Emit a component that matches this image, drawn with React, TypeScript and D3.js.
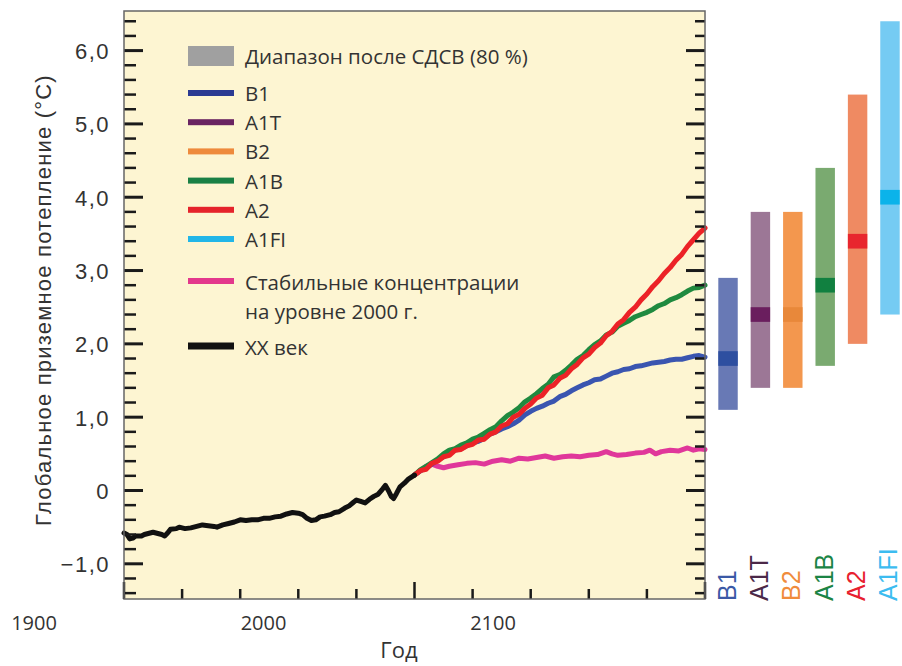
import React from "react";
import * as d3 from "d3";

// ---------- data ----------
const histYears = [1900, 1901, 1902, 1903, 1904, 1906, 1907, 1909, 1910, 1911, 1913, 1914, 1915, 1916, 1918, 1919, 1921, 1923, 1925, 1927, 1929, 1931, 1932, 1934, 1936, 1938, 1940, 1942, 1944, 1946, 1948, 1950, 1952, 1954, 1956, 1958, 1960, 1961.5, 1963, 1964.5, 1966, 1967.5, 1969, 1971, 1972.5, 1974, 1976, 1977.5, 1979, 1980, 1981.5, 1983, 1984.5, 1986, 1987.5, 1989, 1990, 1991, 1992, 1992.8, 1993.8, 1995, 1996.5, 1998, 2000];
const histTemps = [-0.58, -0.6, -0.66, -0.65, -0.62, -0.62, -0.6, -0.58, -0.57, -0.58, -0.6, -0.62, -0.58, -0.53, -0.52, -0.5, -0.52, -0.51, -0.49, -0.47, -0.48, -0.49, -0.5, -0.47, -0.45, -0.43, -0.4, -0.41, -0.4, -0.4, -0.38, -0.38, -0.36, -0.35, -0.32, -0.3, -0.31, -0.33, -0.38, -0.41, -0.4, -0.36, -0.35, -0.33, -0.3, -0.29, -0.24, -0.21, -0.16, -0.13, -0.15, -0.17, -0.12, -0.08, -0.05, 0.02, 0.07, 0.0, -0.08, -0.11, -0.04, 0.05, 0.1, 0.16, 0.21];

const scenYears = [2000, 2002, 2004, 2006, 2008, 2010, 2012, 2014, 2016, 2018, 2020, 2022, 2024, 2026, 2028, 2030, 2032, 2034, 2036, 2038, 2040, 2042, 2044, 2046, 2048, 2050, 2052, 2054, 2056, 2058, 2060, 2062, 2064, 2066, 2068, 2070, 2072, 2074, 2076, 2078, 2080, 2082, 2084, 2086, 2088, 2090, 2092, 2094, 2096, 2098, 2100];
const a2Temps = [0.21, 0.27, 0.29, 0.37, 0.4, 0.46, 0.48, 0.55, 0.56, 0.61, 0.63, 0.69, 0.7, 0.77, 0.8, 0.88, 0.91, 1.0, 1.04, 1.12, 1.18, 1.26, 1.3, 1.4, 1.44, 1.53, 1.57, 1.66, 1.72, 1.81, 1.86, 1.95, 2.01, 2.11, 2.17, 2.27, 2.33, 2.43, 2.5, 2.6, 2.68, 2.78, 2.86, 2.96, 3.04, 3.14, 3.22, 3.33, 3.42, 3.51, 3.58];
const a1bTemps = [0.21, 0.28, 0.33, 0.38, 0.43, 0.5, 0.55, 0.57, 0.62, 0.65, 0.7, 0.73, 0.78, 0.83, 0.87, 0.95, 1.02, 1.07, 1.13, 1.21, 1.26, 1.32, 1.39, 1.45, 1.55, 1.58, 1.64, 1.71, 1.79, 1.84, 1.92, 1.99, 2.04, 2.12, 2.16, 2.24, 2.28, 2.32, 2.37, 2.4, 2.43, 2.47, 2.52, 2.55, 2.6, 2.63, 2.67, 2.72, 2.76, 2.77, 2.8];
const b1Temps = [0.21, 0.27, 0.31, 0.36, 0.42, 0.46, 0.5, 0.55, 0.57, 0.61, 0.65, 0.67, 0.71, 0.77, 0.8, 0.84, 0.87, 0.91, 0.96, 1.03, 1.08, 1.12, 1.15, 1.19, 1.22, 1.28, 1.31, 1.36, 1.4, 1.44, 1.47, 1.51, 1.52, 1.56, 1.6, 1.62, 1.65, 1.66, 1.69, 1.7, 1.72, 1.74, 1.75, 1.76, 1.78, 1.79, 1.79, 1.81, 1.83, 1.84, 1.82];

const commitYears = [2000, 2002, 2004, 2006, 2008, 2010, 2012, 2015, 2018, 2021, 2024, 2027, 2030, 2033, 2036, 2039, 2042, 2045, 2048, 2051, 2054, 2057, 2060, 2063, 2066, 2068, 2070, 2073, 2076, 2079, 2081, 2083, 2085, 2088, 2091, 2094, 2096, 2098, 2100];
const commitTemps = [0.21, 0.27, 0.33, 0.36, 0.33, 0.31, 0.33, 0.35, 0.37, 0.38, 0.36, 0.4, 0.42, 0.4, 0.44, 0.43, 0.45, 0.47, 0.44, 0.46, 0.47, 0.46, 0.48, 0.49, 0.53, 0.5, 0.48, 0.49, 0.51, 0.52, 0.55, 0.5, 0.53, 0.55, 0.54, 0.58, 0.55, 0.57, 0.56];

const barScenarios = ["B1", "A1T", "B2", "A1B", "A2", "A1FI"];
const barBest = [1.8, 2.4, 2.4, 2.8, 3.4, 4.0];
const barLow = [1.1, 1.4, 1.4, 1.7, 2.0, 2.4];
const barHigh = [2.9, 3.8, 3.8, 4.4, 5.4, 6.4];
const barRangeColors = ["#6879b5", "#9c7796", "#f3974e", "#7aaa70", "#ef8a62", "#75cbf3"];
const barBestColors = ["#2e4fa0", "#6a1e5e", "#e8883a", "#118040", "#e8262e", "#0bb3ea"];
const barLabelColors = ["#3b59a6", "#4b2848", "#f08c3c", "#1b8445", "#e8202f", "#3cbcf0"];

const legendSeries = ["B1", "A1T", "B2", "A1B", "A2", "A1FI"];
const legendColors = ["#2b3a92", "#6a2462", "#ee8a3c", "#1a8045", "#e5232b", "#22b6e8"];
const rangeLegendLabel = "Диапазон после СДСВ (80 %)";
const commitLegendLines = ["Стабильные концентрации", "на уровне 2000 г."];
const histLegendLabel = "XX век";

const yTickValues = [-1, 0, 1, 2, 3, 4, 5, 6];
const yTickLabels = ["−1,0", "0", "1,0", "2,0", "3,0", "4,0", "5,0", "6,0"];
const xLabelYears = [1900, 2000, 2100];
const xLabelTexts = ["1900", "2000", "2100"];
const yTitle = "Глобальное приземное потепление (°C)";
const xTitle = "Год";

// ---------- component ----------
export default function App() {
  const W = 902, H = 666;
  const left = 124, right = 705, top = 11, bottom = 599;

  const x = d3.scaleLinear().domain([1900, 2100]).range([left, right]);
  const y = d3.scaleLinear().domain([-1.48, 6.54]).range([bottom, top]);
  const xLabel = d3.scaleLinear().domain([1900, 2100]).range([34, 493]);
  const band = d3.scaleBand<string>().domain(barScenarios).range([718.3, 899.7]).paddingInner(0.4).paddingOuter(0);
  const legendRow = d3.scaleLinear().domain([0, 5]).range([93, 239]);

  const line = d3.line<[number, number]>().x(d => x(d[0])).y(d => y(d[1]));
  const zip = (a: number[], b: number[]) => a.map((v, i) => [v, b[i]] as [number, number]);

  const yMinor = d3.range(-14, 65, 2).map(v => v / 10).filter(v => Math.abs(v - Math.round(v)) > 1e-6);
  const xTicks = d3.range(1900, 2101, 20);

  const sans = "'Liberation Sans', Arial, sans-serif";
  const humanist = "'Open Sans', 'Noto Sans', sans-serif";
  const textColor = "#333";

  const lines = [
    { d: zip(commitYears, commitTemps), c: "#e0379a" },
    { d: zip(scenYears, b1Temps), c: "#3a55b0" },
    { d: zip(scenYears, a1bTemps), c: "#1f8a3f" },
    { d: zip(scenYears, a2Temps), c: "#ec2227" },
  ];

  return (
    <svg width={W} height={H} style={{ position: "absolute", left: 0, top: 0, background: "#fff" }}>
      <rect x={left} y={top} width={right - left} height={bottom - top} fill="#fdf5d2" />

      {/* lines */}
      {lines.map((l, i) => (
        <path key={i} d={line(l.d) || ""} fill="none" stroke={l.c} strokeWidth={5} strokeLinejoin="round" strokeLinecap="round" />
      ))}
      <path d={line(zip(histYears, histTemps)) || ""} fill="none" stroke="#111" strokeWidth={5} strokeLinejoin="round" strokeLinecap="round" />

      {/* y ticks left and right */}
      {yTickValues.map(v => (
        <g key={"ym" + v}>
          <line x1={left} x2={left + 19} y1={y(v)} y2={y(v)} stroke="#1a1a1a" strokeWidth={3} />
          <line x1={right} x2={right - 19} y1={y(v)} y2={y(v)} stroke="#1a1a1a" strokeWidth={3} />
        </g>
      ))}
      {yMinor.map(v => (
        <g key={"yn" + v}>
          <line x1={left} x2={left + 12} y1={y(v)} y2={y(v)} stroke="#1a1a1a" strokeWidth={2.5} />
          <line x1={right} x2={right - 10} y1={y(v)} y2={y(v)} stroke="#1a1a1a" strokeWidth={2.5} />
        </g>
      ))}
      {/* x ticks */}
      {xTicks.map(t => (
        <line key={"xt" + t} x1={x(t)} x2={x(t)} y1={bottom} y2={bottom - (t % 100 === 0 ? 17 : 10)} stroke="#1a1a1a" strokeWidth={2.5} />
      ))}
      <rect x={left} y={top} width={right - left} height={bottom - top} fill="none" stroke="#666" strokeWidth={1.5} />

      {/* y tick labels */}
      {yTickValues.map((v, i) => (
        <text key={"yl" + v} x={110} y={y(v)} dy="0.38em" textAnchor="end" fontFamily={sans} fontSize={22} letterSpacing={1.5} fill={textColor}>
          {yTickLabels[i]}
        </text>
      ))}
      {/* x tick labels */}
      {xLabelYears.map((v, i) => (
        <text key={"xl" + v} x={xLabel(v)} y={630} textAnchor="middle" fontFamily={humanist} fontSize={20} fill={textColor}>
          {xLabelTexts[i]}
        </text>
      ))}
      <text x={399} y={658} textAnchor="middle" fontFamily={humanist} fontSize={22} fill={textColor}>{xTitle}</text>
      <text transform={`translate(51,300) rotate(-90)`} textAnchor="middle" fontFamily={sans} fontSize={22} letterSpacing={1.2} fill={textColor}>{yTitle}</text>

      {/* legend */}
      <rect x={188} y={46} width={46} height={20} fill="#a0a0a0" />
      <text x={245} y={64} fontFamily={humanist} fontSize={20.5} fill={textColor}>{rangeLegendLabel}</text>
      {legendSeries.map((s, i) => (
        <g key={"lg" + s}>
          <rect x={188} y={legendRow(i) - 3} width={46} height={6} fill={legendColors[i]} />
          <text x={245} y={legendRow(i) + 8} fontFamily={humanist} fontSize={20.5} fill={textColor}>{s}</text>
        </g>
      ))}
      <rect x={188} y={278} width={46} height={6} fill="#e3388c" />
      {commitLegendLines.map((t, i) => (
        <text key={"cl" + i} x={245} y={290 + i * 29} fontFamily={humanist} fontSize={20.5} fill={textColor}>{t}</text>
      ))}
      <rect x={188} y={342.5} width={46} height={7} fill="#111" />
      <text x={245} y={355} fontFamily={humanist} fontSize={20.5} fill={textColor}>{histLegendLabel}</text>

      {/* right-hand range bars */}
      {barScenarios.map((s, i) => {
        const bx = band(s) as number;
        const bw = band.bandwidth();
        return (
          <g key={"bar" + s}>
            <rect x={bx} y={y(barHigh[i])} width={bw} height={y(barLow[i]) - y(barHigh[i])} fill={barRangeColors[i]} />
            <rect x={bx} y={y(barBest[i] + 0.1)} width={bw} height={y(barBest[i] - 0.1) - y(barBest[i] + 0.1)} fill={barBestColors[i]} />
            <text transform={`translate(${bx + bw / 2 + 7.5},601) rotate(-90)`} fontFamily={sans} fontSize={25} fill={barLabelColors[i]}>{s}</text>
          </g>
        );
      })}
    </svg>
  );
}
